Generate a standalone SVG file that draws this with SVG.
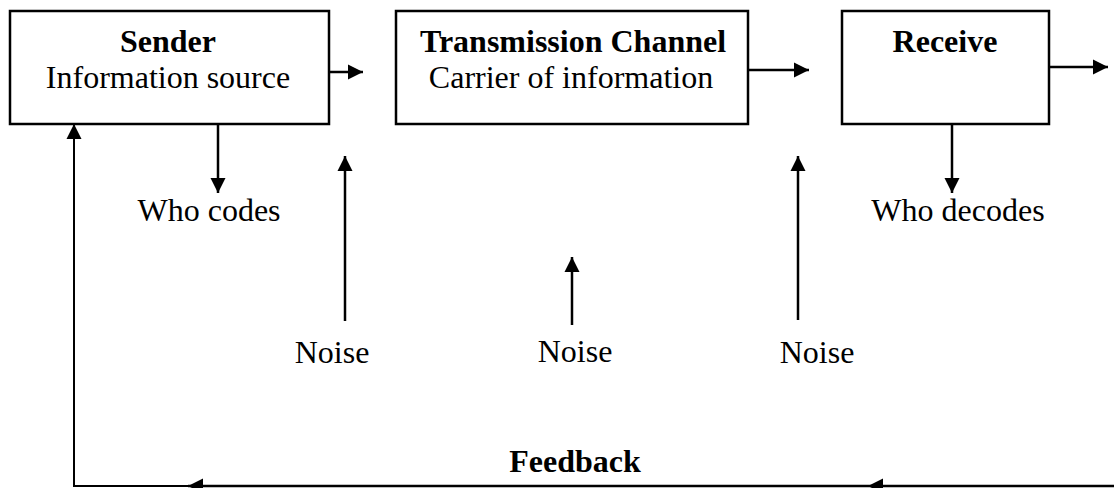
<svg xmlns="http://www.w3.org/2000/svg" width="1114" height="488" viewBox="0 0 1114 488">
<style>
.box{fill:#fff;stroke:#000;stroke-width:2.5}
.t{font-family:"Liberation Serif","Times New Roman",serif;font-size:32px;fill:#000;text-anchor:middle}
.b{font-weight:bold}
.c{fill:none;stroke:#000;stroke-width:2.5}
</style>
<defs>
<marker id="ah" markerUnits="userSpaceOnUse" markerWidth="16" markerHeight="16" viewBox="0 0 16 16" refX="15" refY="8" orient="auto">
<path d="M0,0.5 L15,8 L0,15.5 z" fill="#000"/>
</marker>
</defs>
<rect width="1114" height="488" fill="#fff"/>
<g id="sender">
<rect class="box" x="10" y="11" width="319" height="113"/>
<text class="t b" x="168" y="52">Sender</text>
<text class="t" x="168" y="88">Information source</text>
</g>
<g id="channel">
<rect class="box" x="396" y="11" width="352" height="113"/>
<text class="t b" x="573" y="52">Transmission Channel</text>
<text class="t" x="571" y="88">Carrier of information</text>
</g>
<g id="receive">
<rect class="box" x="842" y="11" width="207" height="113"/>
<text class="t b" x="945" y="52">Receive</text>
</g>
<g id="who-codes"><text class="t" x="209" y="221">Who codes</text></g>
<g id="who-decodes"><text class="t" x="958" y="221">Who decodes</text></g>
<g id="noise1"><text class="t" x="332" y="363">Noise</text></g>
<g id="noise2"><text class="t" x="575" y="362">Noise</text></g>
<g id="noise3"><text class="t" x="817" y="363">Noise</text></g>
<g id="feedback"><text class="t b" x="575" y="472">Feedback</text></g>
<g id="connectors">
<line class="c" x1="329" y1="72" x2="363" y2="72" marker-end="url(#ah)"/>
<line class="c" x1="748" y1="70" x2="809" y2="70" marker-end="url(#ah)"/>
<line class="c" x1="1049" y1="67" x2="1108" y2="67" marker-end="url(#ah)"/>
<line class="c" x1="218" y1="124" x2="218" y2="193" marker-end="url(#ah)"/>
<line class="c" x1="952" y1="124" x2="952" y2="193" marker-end="url(#ah)"/>
<line class="c" x1="345" y1="321" x2="345" y2="156" marker-end="url(#ah)"/>
<line class="c" x1="572" y1="325" x2="572" y2="257" marker-end="url(#ah)"/>
<line class="c" x1="798" y1="320" x2="798" y2="156" marker-end="url(#ah)"/>
<line class="c" x1="1114" y1="486" x2="868" y2="486" marker-end="url(#ah)"/>
<line class="c" x1="868" y1="486" x2="188" y2="486" marker-end="url(#ah)"/>
<path d="M188,486 H74 V124" fill="none" stroke="#000" stroke-width="2" marker-end="url(#ah)"/>
</g>
</svg>
